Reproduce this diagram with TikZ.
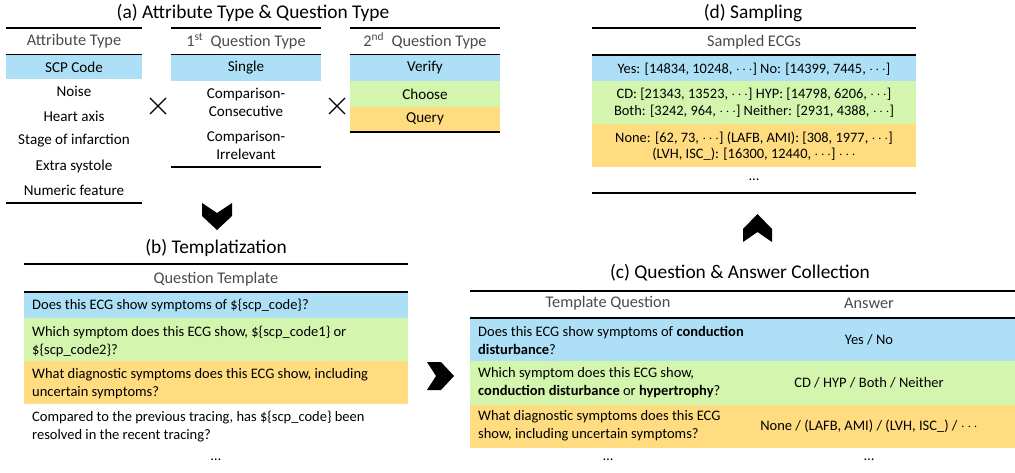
\documentclass[tikz,border=0pt]{standalone}
\usepackage{fontspec}
\setmainfont{Carlito}
\definecolor{cblue}{HTML}{ADE0F6}
\definecolor{cgreen}{HTML}{D3F5AD}
\definecolor{corange}{HTML}{FFDC7F}
\definecolor{hdr}{HTML}{4A4A4A}
\begin{document}
\begin{tikzpicture}[x=1pt,y=-1pt,
  title/.style={font=\fontsize{19.4}{21}\selectfont, inner sep=0pt},
  hd/.style={font=\fontsize{16.3}{18}\selectfont, text=hdr, inner sep=0pt},
  acell/.style={font=\fontsize{15.1}{18}\selectfont, inner sep=0pt, align=center},
  cell/.style={font=\fontsize{14.5}{18}\selectfont, inner sep=0pt, align=center},
  lcell/.style={font=\fontsize{14.5}{18}\selectfont, inner sep=0pt, align=left, anchor=west},
  scell/.style={font=\fontsize{14.4}{16.5}\selectfont, inner sep=0pt, align=center},
  rulel/.style={line width=1.2pt},
  chev/.style={fill=black},
  crossl/.style={line width=1.1pt}]
\useasboundingbox (0,0) rectangle (1015,473);

% ---------- (a) ----------
\node[title] (ta) at (253,13) {(a) Attribute Type \& Question Type};
% table 1
\fill[cblue] (6,55) rectangle (142,79);
\draw[rulel] (6,28) -- (142,28);
\draw[rulel] (6,54.5) -- (142,54.5);
\draw[rulel] (6,203) -- (142,203);
\node[hd] (a1h) at (74,41) {Attribute Type};
\node[acell] (a1r1) at (74,67) {SCP Code};
\node[acell] (a1r2) at (74,91) {Noise};
\node[acell] (a1r3) at (74,116) {Heart axis};
\node[acell] (a1r4) at (74,141) {Stage of infarction};
\node[acell] (a1r5) at (74,166) {Extra systole};
\node[acell] (a1r6) at (74,190) {Numeric feature};
% cross 1
\draw[crossl] (150,98) -- (166,114) (150,114) -- (166,98);
% table 2
\fill[cblue] (171,55) rectangle (321,81);
\draw[rulel] (171,28) -- (321,28);
\draw[rulel] (171,54.5) -- (321,54.5);
\draw[rulel] (171,167) -- (321,167);
\node[hd] (a2h) at (246,41) {1\textsuperscript{st}\ \ Question Type};
\node[acell] (a2r1) at (246,68) {Single};
\node[acell] (a2r2) at (246,102) {Comparison-\\Consecutive};
\node[acell] (a2r3) at (246,145) {Comparison-\\Irrelevant};
% cross 2
\draw[crossl] (329,98) -- (345,114) (329,114) -- (345,98);
% table 3
\fill[cblue] (350,55) rectangle (500,81);
\fill[cgreen] (350,81) rectangle (500,107);
\fill[corange] (350,107) rectangle (500,132);
\draw[rulel] (350,28) -- (500,28);
\draw[rulel] (350,54.5) -- (500,54.5);
\draw[rulel] (350,132) -- (500,132);
\node[hd] (a3h) at (425,41) {2\textsuperscript{nd}\ \ Question Type};
\node[acell] (a3r1) at (425,68) {Verify};
\node[acell] (a3r2) at (425,94) {Choose};
\node[acell] (a3r3) at (425,119) {Query};

% down chevron
\fill[chev] (202,203) -- (217,213) -- (232,203) -- (232,216) -- (217,230) -- (202,216) -- cycle;

% ---------- (b) ----------
\node[title] (tb) at (216,248) {(b) Templatization};
\fill[cblue] (24,292) rectangle (408,318);
\fill[cgreen] (24,318) rectangle (408,361);
\fill[corange] (24,361) rectangle (408,404);
\draw[rulel] (24,264) -- (408,264);
\draw[rulel] (24,292) -- (408,292);
\node[hd] (bh) at (216,279) {Question Template};
\node[lcell] (br1) at (32,305) {Does this ECG show symptoms of \$\{scp\_code\}?};
\node[lcell] (br2) at (32,341) {Which symptom does this ECG show, \$\{scp\_code1\} or\\\$\{scp\_code2\}?};
\node[lcell] (br3) at (32,384) {What diagnostic symptoms does this ECG show, including\\uncertain symptoms?};
\node[lcell] (br4) at (32,427) {Compared to the previous tracing, has \$\{scp\_code\} been\\resolved in the recent tracing?};
\node[cell] (bdots) at (216,460) {\textellipsis};

% right chevron
\fill[chev] (427,362) -- (441,362) -- (454,376) -- (441,390) -- (427,390) -- (436,376) -- cycle;

% ---------- (c) ----------
\node[title] (tc) at (740,273) {(c) Question \& Answer Collection};
\fill[cblue] (470,318) rectangle (1015,361);
\fill[cgreen] (470,361) rectangle (1015,405);
\fill[corange] (470,405) rectangle (1015,448);
\draw[rulel] (470,291) -- (1015,291);
\draw[rulel] (470,318) -- (1015,318);
\node[hd] (ch1) at (608,303) {Template Question};
\node[hd] (ch2) at (869,303) {Answer};
\node[lcell] (cq1) at (478,340) {Does this ECG show symptoms of \textbf{conduction}\\\textbf{disturbance}?};
\node[lcell] (cq2) at (478,383) {Which symptom does this ECG show,\\\textbf{conduction disturbance} or \textbf{hypertrophy}?};
\node[lcell] (cq3) at (478,426) {What diagnostic symptoms does this ECG\\show, including uncertain symptoms?};
\node[cell] (ca1) at (869,340) {Yes / No};
\node[cell] (ca2) at (869,383) {CD / HYP / Both / Neither};
\node[cell] (ca3) at (869,426) {None / (LAFB, AMI) / (LVH, ISC\_) / $\cdots$};
\node[cell] (cd1) at (608,460) {\textellipsis};
\node[cell] (cd2) at (869,460) {\textellipsis};

% ---------- (d) ----------
\node[title] (td) at (753,13) {(d) Sampling};
\fill[cblue] (592,55) rectangle (916,81);
\fill[cgreen] (592,81) rectangle (916,124);
\fill[corange] (592,124) rectangle (916,167);
\draw[rulel] (592,28) -- (916,28);
\draw[rulel] (592,55) -- (916,55);
\draw[rulel] (592,193) -- (916,193);
\node[hd] (dh) at (754,42) {Sampled ECGs};
\node[scell] (dr1) at (754,69) {Yes: [14834, 10248, $\cdots$] No: [14399, 7445, $\cdots$]};
\node[scell] (dr2) at (754,103) {CD: [21343, 13523, $\cdots$] HYP: [14798, 6206, $\cdots$]\\Both: [3242, 964, $\cdots$] Neither: [2931, 4388, $\cdots$]};
\node[scell] (dr3) at (754,146) {None: [62, 73, $\cdots$] (LAFB, AMI): [308, 1977, $\cdots$]\\(LVH, ISC\_): [16300, 12440, $\cdots$] $\cdots$};
\node[scell] (ddots) at (754,180) {\textellipsis};

% up chevron
\fill[chev] (743,242) -- (757.5,232) -- (772,242) -- (772,229) -- (757.5,214) -- (743,229) -- cycle;
\end{tikzpicture}
\end{document}
